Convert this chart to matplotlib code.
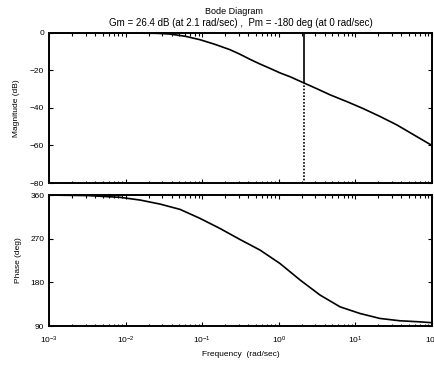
import matplotlib
matplotlib.use("Agg")
import matplotlib.pyplot as plt
from matplotlib.ticker import NullFormatter
import numpy as np

# Bode response values (log10 of frequency in rad/sec)
log_w_mag = [-3.0, -2.0, -1.6, -1.42, -1.22, -1.03, -0.84, -0.64, -0.51, -0.38,
             -0.25, -0.115, 0.015, 0.15, 0.28, 0.5, 0.67, 0.9, 1.10, 1.32,
             1.54, 1.77, 2.0]
mag_db = [0.0, 0.0, -0.2, -0.6, -1.8, -3.6, -6.0, -8.9, -11.3, -14.0,
          -16.5, -18.9, -21.3, -23.4, -25.8, -29.8, -33.0, -36.8, -40.3, -44.5,
          -49.0, -54.5, -60.0]

log_w_phase = [-3.0, -2.5, -2.07, -1.81, -1.55, -1.29, -1.03, -0.77, -0.51, -0.245,
               0.015, 0.28, 0.54, 0.80, 1.06, 1.32, 1.58, 1.84, 2.0]
phase_deg = [360, 359, 355.3, 349.7, 341.4, 330.5, 312, 291.3, 268.7, 246.6,
             219, 184.7, 153.8, 129.7, 116, 105.8, 101, 98.8, 97]

gm_db = 26.4
gm_freq = 2.1
pm_deg = -180
pm_freq = 0

plt.rcParams["font.family"] = ["Liberation Sans", "DejaVu Sans"]
plt.rcParams["font.size"] = 6

fig = plt.figure(figsize=(4.35, 3.66), dpi=100)
ax_mag = fig.add_axes([0.113, 0.500, 0.880, 0.410])
ax_ph = fig.add_axes([0.113, 0.109, 0.880, 0.358])

w_mag = 10 ** np.array(log_w_mag)
w_ph = 10 ** np.array(log_w_phase)

ax_mag.semilogx(w_mag, mag_db, color="black", lw=1.2)
# gain margin marker: solid down to the curve, dotted below it
ax_mag.plot([gm_freq, gm_freq], [0, -gm_db], color="black", lw=1.2)
ax_mag.plot([gm_freq, gm_freq], [-gm_db, -80], color="black", lw=1.2, ls=(0, (1, 1)))

ax_ph.semilogx(w_ph, phase_deg, color="black", lw=1.2)

for ax in (ax_mag, ax_ph):
    ax.set_xlim(1e-3, 1e2)
    ax.tick_params(direction="in", which="both", top=True, right=True,
                   length=3, width=0.8, labelsize=6)
    ax.tick_params(which="minor", length=1.8)
    ax.xaxis.set_minor_formatter(NullFormatter())
    for s in ax.spines.values():
        s.set_linewidth(1.4)

ax_mag.set_ylim(-80, 0)
ax_mag.set_yticks([0, -20, -40, -60, -80])
ax_mag.set_xticklabels([])
ax_mag.set_ylabel("Magnitude (dB)", fontsize=6, labelpad=7)

ax_ph.set_ylim(90, 360)
ax_ph.set_yticks([90, 180, 270, 360])
ax_ph.set_xticks([1e-3, 1e-2, 1e-1, 1e0, 1e1, 1e2])
ax_ph.tick_params(axis="x", pad=6)
ax_ph.set_ylabel("Phase (deg)", fontsize=6, labelpad=6)
ax_ph.set_xlabel("Frequency  (rad/sec)", fontsize=6, labelpad=4)

ax_mag.set_title("Gm = %.1f dB (at %.1f rad/sec) ,  Pm = %d deg (at %d rad/sec)"
                 % (gm_db, gm_freq, pm_deg, pm_freq), fontsize=7, pad=5)
fig.text(0.538, 0.968, "Bode Diagram", fontsize=6.5, ha="center", va="center")

fig.savefig("out.png", dpi=100)
